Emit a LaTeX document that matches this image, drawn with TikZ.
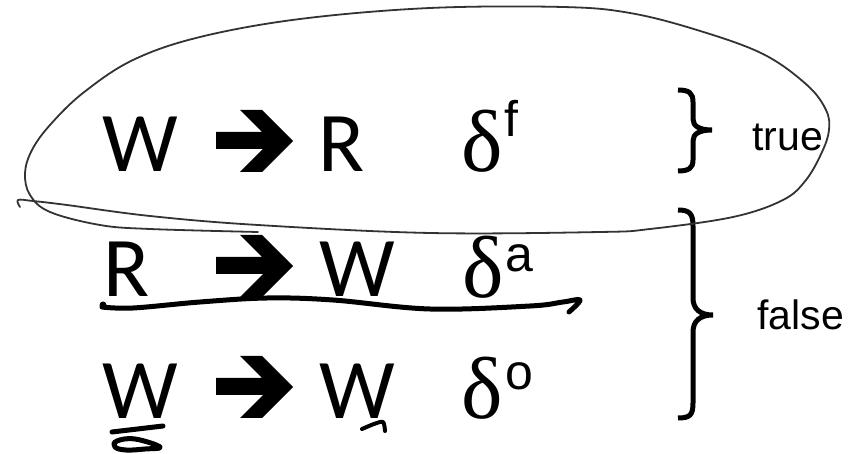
\documentclass[tikz,border=0pt]{standalone}
\usepackage{fontspec}
\setmainfont{Liberation Sans}
\newfontfamily\calfont{Carlito}
\newfontfamily\serfont{Liberation Serif}
\newfontfamily\arfont{Liberation Sans}
\tikzset{
  big/.style={font=\calfont\fontsize{85}{85}\selectfont, inner sep=0pt, anchor=base},
  dl/.style={font=\serfont\fontsize{88}{88}\selectfont, inner sep=0pt, anchor=base},
  sup/.style={font=\arfont\fontsize{50}{50}\selectfont, inner sep=0pt, anchor=base west},
  lab/.style={font=\arfont\fontsize{41}{41}\selectfont, inner sep=0pt, anchor=base west},
  brace/.style={line width=5pt},
  ink/.style={line width=5pt, line cap=round, line join=round},
  ring/.style={line width=1.8pt, draw=black!80, line cap=round, line join=round},
  fatarrow/.pic={\fill (216,-40)--(262,-40)--(240,-62)--(262,-62)--(293,-31)--(262,0)--(240,0)--(263,-23)--(216,-23)--cycle;}
}
\begin{document}
\begin{tikzpicture}[x=1pt,y=-1pt]
\useasboundingbox (0,0) rectangle (860,454);
% row 1
\node[big] (w1) at (140,172) {W};
\pic (a1) at (0,172) {fatarrow};
\node[big] (r1) at (342,172) {R};
\node[dl] (d1) at (482,172) {δ};
\node[sup] (f1) at (504,137) {f};
% row 2
\node[big] (r2) at (127,297) {R};
\pic (a2) at (0,297) {fatarrow};
\node[big] (w2) at (357,297) {W};
\node[dl] (d2) at (483,298) {δ};
\node[sup] (s2) at (505,272) {a};
% row 3
\node[big] (w3) at (140,418) {W};
\pic (a3) at (0,418) {fatarrow};
\node[big] (w4) at (357,418) {W};
\node[dl] (d3) at (482,418) {δ};
\node[sup] (s3) at (505,390) {o};
% braces
\draw[brace] (678,90) .. controls (689,90) and (693,93) .. (693,102) -- (693,119)
  .. controls (693,126) and (699,130) .. (712,130)
  .. controls (699,130) and (693,134) .. (693,141) -- (693,160)
  .. controls (693,168) and (689,171) .. (678,171);
\draw[brace] (678,210) .. controls (690,210) and (693,214) .. (693,226) -- (693,298)
  .. controls (693,309) and (700,315) .. (713,315)
  .. controls (700,315) and (693,321) .. (693,332) -- (693,403)
  .. controls (693,415) and (690,418) .. (678,418);
\node[lab] (t) at (752,151) {true};
\node[lab] (fl) at (757,330) {false};
% hand-drawn loop
\draw[ring] plot[smooth, tension=0.6] coordinates {
 (258,232) (150,229) (100,225) (50,212) (30,195) (25,173) (32,150) (50,125) (83,93)
 (133,60) (200,37) (300,19) (430,8) (563,7) (630,13) (697,30) (763,54) (807,85)
 (826,110) (829,130) (822,152) (806,180) (783,200) (733,217) (650,229) (600,232)
 (430,233) (258,225) (150,216) (67,205) (33,201) (18,200) (20,207)};
% underline
\draw[ink] plot[smooth, tension=0.6] coordinates {
 (102,307) (133,308) (200,302) (267,298) (333,300) (430,309) (530,306) (563,302) (580,300) (569,312)};
\fill (103,305) circle (3.5pt);
% scribbles
\draw[ink] (112,432) -- (163,426);
\draw[line width=5pt, line join=round] plot[smooth cycle, tension=0.7] coordinates {
 (160,447) (135,439) (117,441) (115,447) (126,450) (145,449)};
\draw[line width=4pt, line cap=round, line join=round] plot[smooth, tension=0.5] coordinates {
 (362,429) (374,424) (383,422) (385,431)};
\end{tikzpicture}
\end{document}
